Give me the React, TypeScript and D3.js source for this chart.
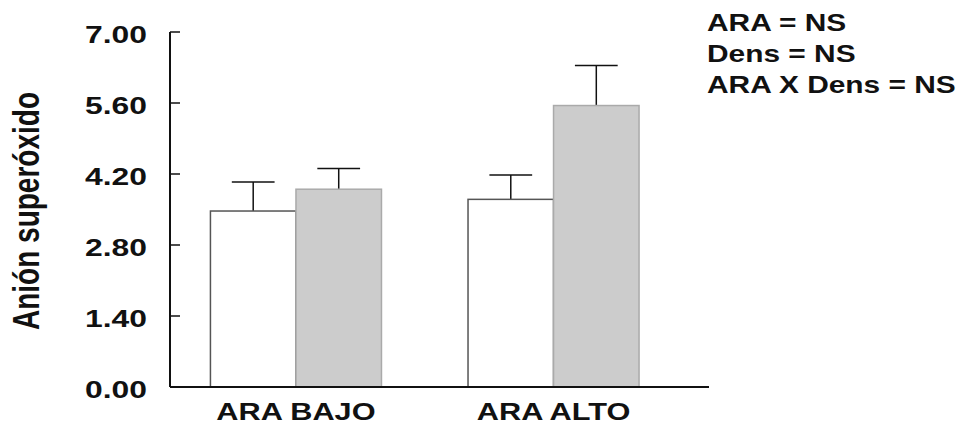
import * as d3 from "d3";
import React from "react";
import { useEffect, useRef } from "react";

// values
const groups = ["ARA BAJO", "ARA ALTO"];
const series = ["white", "grey"];
const means = [
    [3.47, 3.9],
    [3.7, 5.55],
];
const errs = [
    [0.57, 0.41],
    [0.48, 0.79],
];
const yTicks = [0, 1.4, 2.8, 4.2, 5.6, 7.0];
const statLines = ["ARA = NS", "Dens = NS", "ARA X Dens = NS"];

const fills = { white: "#ffffff", grey: "#cccccc" };
const strokes = { white: "#555555", grey: "#aaaaaa" };

const App = () => {
    const chartArea = useRef(null);
    const width = 965, height = 424;
    const margin = { top: 32, left: 170, bottom: 37, right: 256 };

    useEffect(() => {
        const svg = d3.select(chartArea.current);
        svg.selectAll("*").remove();
        const font = "'Liberation Sans', Arial, sans-serif";

        const y = d3.scaleLinear().domain([0, 7]).range([height - margin.bottom, margin.top]);
        const x0 = d3.scaleBand().domain(groups).range([margin.left, 679.5]).paddingInner(0.336).paddingOuter(0.157);
        const x1 = d3.scaleBand().domain(series).range([0, x0.bandwidth()]);

        // bars + error bars (upper only)
        groups.forEach((g, gi) => {
            const gg = svg.append("g").attr("transform", "translate(" + x0(g) + ",0)");
            series.forEach((s, si) => {
                const v = means[gi][si];
                const cx = (x1(s) as number) + x1.bandwidth() / 2;
                const top = y(v + errs[gi][si]);
                gg.append("line")
                    .attr("x1", cx).attr("x2", cx)
                    .attr("y1", y(v)).attr("y2", top)
                    .attr("stroke", "#111").attr("stroke-width", 1.5);
                gg.append("line")
                    .attr("x1", cx - x1.bandwidth() / 4).attr("x2", cx + x1.bandwidth() / 4)
                    .attr("y1", top).attr("y2", top)
                    .attr("stroke", "#111").attr("stroke-width", 1.5);
                gg.append("rect")
                    .attr("x", x1(s) as number)
                    .attr("y", y(v))
                    .attr("width", x1.bandwidth())
                    .attr("height", y(0) - y(v))
                    .attr("fill", (fills as any)[s])
                    .attr("stroke", (strokes as any)[s])
                    .attr("stroke-width", 1.5);
            });
        });

        // axes
        svg.append("line")
            .attr("x1", margin.left).attr("x2", margin.left)
            .attr("y1", y(7)).attr("y2", y(0))
            .attr("stroke", "#111").attr("stroke-width", 2);
        svg.append("line")
            .attr("x1", margin.left).attr("x2", 709)
            .attr("y1", y(0)).attr("y2", y(0))
            .attr("stroke", "#111").attr("stroke-width", 2);

        yTicks.forEach(t => {
            svg.append("line")
                .attr("x1", margin.left).attr("x2", margin.left + 10)
                .attr("y1", y(t)).attr("y2", y(t))
                .attr("stroke", "#111").attr("stroke-width", 1.5);
            svg.append("text")
                .attr("transform", "translate(147," + (y(t) + 11) + ") scale(1.3,1)")
                .attr("text-anchor", "end")
                .attr("font-family", font)
                .attr("font-weight", "bold")
                .attr("font-size", 24.5)
                .attr("fill", "#111")
                .text(d3.format(".2f")(t));
        });

        groups.forEach(g => {
            svg.append("text")
                .attr("transform", "translate(" + ((x0(g) as number) + x0.bandwidth() / 2) + ",420) scale(1.28,1)")
                .attr("text-anchor", "middle")
                .attr("font-family", font)
                .attr("font-weight", "bold")
                .attr("font-size", 24)
                .attr("fill", "#111")
                .text(g);
        });

        svg.append("text")
            .attr("transform", "translate(39,211) scale(1.3,1) rotate(-90)")
            .attr("text-anchor", "middle")
            .attr("font-family", font)
            .attr("font-weight", "bold")
            .attr("font-size", 28)
            .attr("fill", "#111")
            .text("Anión superóxido");

        statLines.forEach((l, i) => {
            svg.append("text")
                .attr("transform", "translate(707," + (31 + i * 31) + ") scale(1.3,1)")
                .attr("font-family", font)
                .attr("font-weight", "bold")
                .attr("font-size", 23)
                .attr("fill", "#111")
                .text(l);
        });
    }, []);

    return (
        <svg ref={chartArea} width={width} height={height}
            style={{ position: "absolute", left: 0, top: 0, background: "#fff" }} />
    );
};

export default App;
